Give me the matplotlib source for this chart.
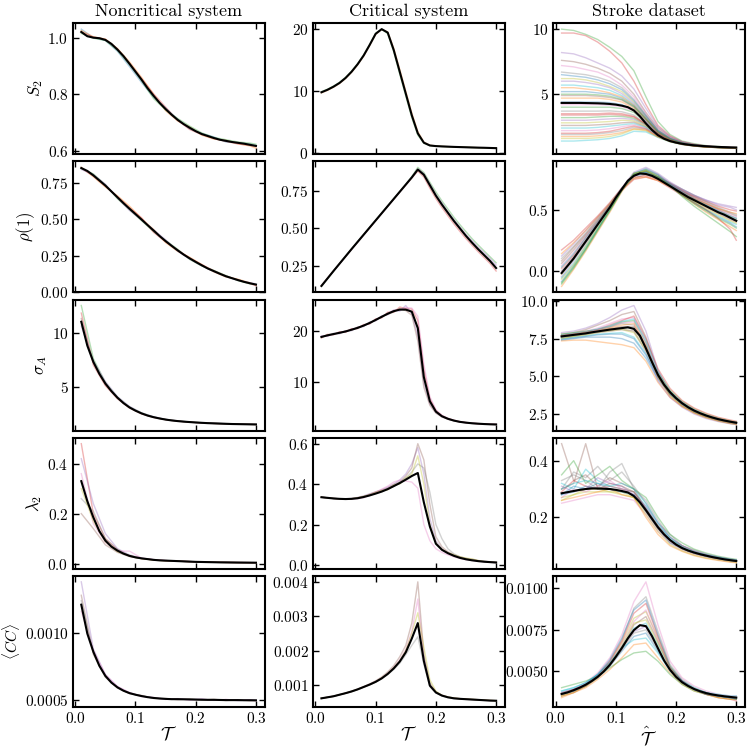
import numpy as np
import matplotlib
matplotlib.use("Agg")
import matplotlib.pyplot as plt

plt.rcParams["font.family"] = "serif"
plt.rcParams["font.serif"] = ["cmr10"]
plt.rcParams["mathtext.fontset"] = "cm"
plt.rcParams["axes.formatter.use_mathtext"] = True
plt.rcParams["font.size"] = 11

# fine grid (critical system + all mean curves) and coarse grid (other runs)
tau = [0.01, 0.02, 0.03, 0.04, 0.05, 0.06, 0.07, 0.08, 0.09, 0.10,
       0.11, 0.12, 0.13, 0.14, 0.15, 0.16, 0.17, 0.18, 0.19, 0.20,
       0.21, 0.22, 0.23, 0.24, 0.25, 0.26, 0.27, 0.28, 0.29, 0.30]
tau_c = [0.01, 0.03, 0.05, 0.07, 0.09, 0.11, 0.13, 0.15, 0.17, 0.19,
         0.21, 0.23, 0.25, 0.27, 0.29, 0.30]

col_titles = ["Noncritical system", "Critical system", "Stroke dataset"]
row_labels = [r"$S_2$", r"$\rho(1)$", r"$\sigma_A$", r"$\lambda_2$", r"$\langle CC\rangle$"]
x_labels = [r"$\mathcal{T}$", r"$\mathcal{T}$", r"$\hat{\mathcal{T}}$"]

# ---------------- noncritical system ----------------
nc_s2_mean = [1.02, 1.005, 1.0, 0.998, 0.992, 0.978, 0.958, 0.935, 0.908, 0.88,
              0.852, 0.822, 0.795, 0.77, 0.748, 0.728, 0.71, 0.695, 0.682, 0.67,
              0.66, 0.653, 0.646, 0.64, 0.636, 0.632, 0.629, 0.626, 0.622, 0.618]
nc_s2_runs = [
    [1.03, 1.0, 0.99, 0.952, 0.898, 0.842, 0.79, 0.752, 0.712, 0.678, 0.662, 0.65, 0.632, 0.63, 0.625, 0.62],
    [1.025, 1.003, 0.995, 0.962, 0.915, 0.86, 0.8, 0.742, 0.706, 0.685, 0.656, 0.642, 0.638, 0.626, 0.618, 0.61],
    [1.015, 0.998, 0.99, 0.955, 0.905, 0.848, 0.785, 0.745, 0.715, 0.688, 0.664, 0.648, 0.64, 0.632, 0.628, 0.624],
    [1.02, 1.002, 0.994, 0.96, 0.91, 0.856, 0.802, 0.755, 0.708, 0.676, 0.658, 0.644, 0.634, 0.625, 0.62, 0.615],
]
nc_rho_mean = [0.85, 0.83, 0.80, 0.765, 0.73, 0.69, 0.65, 0.61, 0.572, 0.535,
               0.498, 0.46, 0.423, 0.385, 0.35, 0.318, 0.287, 0.258, 0.232, 0.208,
               0.185, 0.163, 0.145, 0.127, 0.11, 0.097, 0.084, 0.072, 0.062, 0.053]
nc_rho_runs = [
    [0.855, 0.79, 0.72, 0.66, 0.59, 0.505, 0.43, 0.34, 0.28, 0.24, 0.19, 0.14, 0.105, 0.09, 0.065, 0.05],
    [0.845, 0.81, 0.735, 0.64, 0.565, 0.49, 0.415, 0.355, 0.295, 0.225, 0.18, 0.15, 0.115, 0.08, 0.058, 0.055],
    [0.85, 0.795, 0.725, 0.655, 0.58, 0.51, 0.41, 0.345, 0.29, 0.235, 0.19, 0.148, 0.112, 0.086, 0.06, 0.045],
    [0.84, 0.805, 0.74, 0.645, 0.56, 0.495, 0.428, 0.36, 0.282, 0.228, 0.182, 0.142, 0.108, 0.082, 0.066, 0.058],
]
nc_sig_mean = [11.0, 8.8, 7.3, 6.2, 5.3, 4.6, 4.0, 3.5, 3.1, 2.8,
               2.55, 2.35, 2.2, 2.08, 1.98, 1.9, 1.84, 1.79, 1.75, 1.71,
               1.68, 1.65, 1.63, 1.61, 1.59, 1.57, 1.56, 1.55, 1.54, 1.53]
nc_sig_runs = [
    [12.5, 7.6, 5.4, 4.05, 3.15, 2.6, 2.22, 1.99, 1.85, 1.76, 1.69, 1.63, 1.59, 1.56, 1.54, 1.53],
    [11.8, 7.0, 5.1, 3.9, 3.05, 2.5, 2.18, 1.97, 1.83, 1.74, 1.67, 1.62, 1.58, 1.56, 1.54, 1.52],
    [10.6, 7.4, 5.5, 4.1, 3.2, 2.6, 2.25, 2.0, 1.86, 1.75, 1.68, 1.64, 1.6, 1.57, 1.55, 1.54],
    [11.3, 7.2, 5.2, 3.95, 3.08, 2.53, 2.19, 1.98, 1.84, 1.75, 1.68, 1.63, 1.59, 1.56, 1.54, 1.53],
]
nc_lam_mean = [0.33, 0.25, 0.185, 0.13, 0.092, 0.068, 0.052, 0.04, 0.031, 0.025,
               0.021, 0.018, 0.015, 0.013, 0.012, 0.011, 0.01, 0.009, 0.008, 0.007,
               0.0065, 0.006, 0.0055, 0.005, 0.0048, 0.0045, 0.0042, 0.004, 0.0038, 0.0036]
nc_lam_runs = [
    [0.48, 0.2, 0.1, 0.055, 0.03, 0.02, 0.015, 0.012, 0.01, 0.008, 0.0065, 0.0055, 0.0048, 0.0042, 0.0038, 0.0036],
    [0.42, 0.24, 0.12, 0.06, 0.035, 0.022, 0.016, 0.012, 0.01, 0.008, 0.0066, 0.0056, 0.0049, 0.0043, 0.0039, 0.0037],
    [0.2, 0.14, 0.075, 0.045, 0.028, 0.02, 0.015, 0.011, 0.0095, 0.0078, 0.0064, 0.0054, 0.0047, 0.0041, 0.0037, 0.0035],
    [0.36, 0.16, 0.085, 0.05, 0.05, 0.022, 0.016, 0.012, 0.01, 0.0082, 0.0066, 0.0056, 0.0048, 0.0042, 0.0038, 0.0036],
    [0.26, 0.21, 0.1, 0.058, 0.03, 0.021, 0.015, 0.012, 0.01, 0.008, 0.0065, 0.0055, 0.0048, 0.0042, 0.0038, 0.0036],
    [0.3, 0.17, 0.088, 0.048, 0.032, 0.02, 0.014, 0.011, 0.0098, 0.0079, 0.0064, 0.0054, 0.0047, 0.0041, 0.0037, 0.0035],
]
nc_cc_mean = [0.00121, 0.000995, 0.00086, 0.000755, 0.00068, 0.00063, 0.000595, 0.00057, 0.000552, 0.00054,
              0.00053, 0.000522, 0.000516, 0.000512, 0.000509, 0.000507, 0.000507, 0.000506, 0.000505, 0.000504,
              0.000503, 0.000502, 0.000502, 0.000501, 0.0005, 0.0005, 0.0005, 0.000499, 0.000499, 0.000498]
nc_cc_runs = [
    [0.00138, 0.00088, 0.00069, 0.0006, 0.000555, 0.00053, 0.000518, 0.000505, 0.00051, 0.000502, 0.000508, 0.000498, 0.000504, 0.000496, 0.000503, 0.0005],
    [0.00128, 0.00084, 0.00067, 0.00059, 0.000548, 0.000535, 0.000512, 0.000512, 0.000503, 0.000509, 0.0005, 0.000506, 0.000497, 0.000503, 0.000495, 0.000497],
    [0.00116, 0.00087, 0.00069, 0.000602, 0.000556, 0.000526, 0.00052, 0.000506, 0.000511, 0.000501, 0.000506, 0.0005, 0.000505, 0.000498, 0.000501, 0.000494],
    [0.00124, 0.00085, 0.000675, 0.000592, 0.00055, 0.000532, 0.000514, 0.00051, 0.000505, 0.000507, 0.000499, 0.000503, 0.000499, 0.000502, 0.000497, 0.000501],
]

# ---------------- critical system ----------------
cr_s2_mean = [9.8, 10.2, 10.7, 11.3, 12.1, 13.1, 14.3, 15.7, 17.4, 19.2,
              19.95, 19.4, 16.6, 13.1, 9.6, 6.1, 3.2, 1.7, 1.25, 1.15,
              1.1, 1.06, 1.02, 0.99, 0.96, 0.93, 0.9, 0.88, 0.85, 0.82]
cr_s2_runs = [
    [9.7, 10.1, 10.6, 11.2, 12.0, 13.0, 14.2, 15.6, 17.3, 19.1, 19.9, 19.5, 16.9, 13.5, 10.0,
     6.5, 3.5, 1.8, 1.3, 1.16, 1.1, 1.06, 1.02, 0.99, 0.96, 0.93, 0.9, 0.88, 0.85, 0.82],
    [9.9, 10.3, 10.8, 11.4, 12.2, 13.2, 14.4, 15.8, 17.5, 19.3, 19.95, 19.2, 16.3, 12.7, 9.2,
     5.7, 2.9, 1.6, 1.22, 1.14, 1.09, 1.05, 1.01, 0.98, 0.95, 0.92, 0.9, 0.87, 0.84, 0.81],
]
cr_rho_mean = [0.115, 0.165, 0.215, 0.264, 0.313, 0.362, 0.41, 0.458, 0.506, 0.554,
               0.602, 0.65, 0.698, 0.746, 0.794, 0.842, 0.895, 0.86, 0.79, 0.72,
               0.66, 0.605, 0.55, 0.5, 0.45, 0.405, 0.362, 0.322, 0.282, 0.235]
cr_rho_runs = [
    [0.112, 0.163, 0.214, 0.265, 0.315, 0.364, 0.412, 0.46, 0.508, 0.556, 0.604, 0.652, 0.7, 0.748, 0.797,
     0.848, 0.91, 0.875, 0.81, 0.745, 0.685, 0.63, 0.575, 0.525, 0.478, 0.432, 0.39, 0.35, 0.31, 0.27],
    [0.118, 0.167, 0.216, 0.263, 0.311, 0.36, 0.408, 0.456, 0.504, 0.552, 0.6, 0.648, 0.696, 0.744, 0.791,
     0.838, 0.885, 0.845, 0.77, 0.7, 0.64, 0.585, 0.53, 0.48, 0.432, 0.388, 0.345, 0.305, 0.265, 0.215],
    [0.115, 0.165, 0.215, 0.264, 0.313, 0.362, 0.41, 0.458, 0.506, 0.554, 0.602, 0.65, 0.698, 0.746, 0.795,
     0.845, 0.9, 0.868, 0.8, 0.73, 0.672, 0.612, 0.56, 0.51, 0.46, 0.418, 0.375, 0.338, 0.298, 0.255],
]
cr_sig_mean = [18.8, 19.1, 19.35, 19.6, 19.85, 20.2, 20.55, 21.0, 21.5, 22.1,
               22.7, 23.3, 23.8, 24.1, 24.1, 23.7, 20.5, 11.0, 6.3, 4.3,
               3.4, 2.9, 2.55, 2.3, 2.15, 2.03, 1.95, 1.88, 1.83, 1.8]
cr_sig_runs = [
    [18.6, 19.3, 19.2, 19.8, 19.7, 20.4, 20.4, 21.2, 21.3, 22.3, 22.5, 23.6, 23.6, 24.6, 24.3,
     24.2, 22.0, 12.5, 6.8, 4.5, 3.5, 2.95, 2.6, 2.32, 2.17, 2.04, 1.96, 1.89, 1.84, 1.8],
    [19.0, 18.9, 19.5, 19.4, 20.0, 20.0, 20.7, 20.8, 21.7, 21.9, 22.9, 23.1, 24.0, 23.8, 24.9,
     23.3, 19.0, 9.8, 5.8, 4.1, 3.3, 2.85, 2.5, 2.28, 2.13, 2.02, 1.94, 1.87, 1.82, 1.79],
    [18.7, 19.2, 19.4, 19.5, 20.0, 20.1, 20.7, 20.9, 21.6, 22.0, 22.8, 23.2, 23.6, 24.3, 23.9,
     23.0, 18.0, 9.0, 5.5, 4.0, 3.25, 2.8, 2.5, 2.27, 2.12, 2.01, 1.93, 1.87, 1.82, 1.78],
    [18.9, 19.0, 19.3, 19.7, 19.8, 20.3, 20.5, 21.1, 21.4, 22.2, 22.6, 23.4, 24.0, 24.0, 24.5,
     24.4, 22.8, 13.5, 7.2, 4.7, 3.6, 3.0, 2.62, 2.35, 2.18, 2.05, 1.97, 1.9, 1.85, 1.81],
]
cr_lam_mean = [0.335, 0.332, 0.329, 0.327, 0.326, 0.327, 0.33, 0.336, 0.344, 0.353,
               0.363, 0.375, 0.39, 0.405, 0.422, 0.44, 0.455, 0.31, 0.19, 0.105,
               0.075, 0.058, 0.045, 0.035, 0.028, 0.023, 0.019, 0.016, 0.014, 0.012]
cr_lam_runs = [
    [0.335, 0.332, 0.329, 0.327, 0.327, 0.329, 0.334, 0.342, 0.352, 0.36, 0.372, 0.385, 0.4, 0.42, 0.45,
     0.5, 0.58, 0.45, 0.23, 0.12, 0.08, 0.06, 0.046, 0.036, 0.029, 0.024, 0.02, 0.017, 0.015, 0.013],
    [0.335, 0.332, 0.329, 0.327, 0.326, 0.328, 0.333, 0.338, 0.35, 0.362, 0.37, 0.38, 0.398, 0.41, 0.44,
     0.48, 0.6, 0.52, 0.3, 0.14, 0.09, 0.065, 0.05, 0.04, 0.032, 0.028, 0.022, 0.018, 0.016, 0.014],
    [0.335, 0.332, 0.329, 0.327, 0.326, 0.326, 0.328, 0.332, 0.345, 0.36, 0.375, 0.39, 0.41, 0.42, 0.415,
     0.41, 0.38, 0.2, 0.12, 0.08, 0.062, 0.05, 0.04, 0.032, 0.026, 0.022, 0.018, 0.015, 0.013, 0.011],
    [0.335, 0.332, 0.329, 0.327, 0.326, 0.327, 0.331, 0.338, 0.343, 0.355, 0.362, 0.378, 0.388, 0.41, 0.43,
     0.46, 0.5, 0.48, 0.36, 0.2, 0.13, 0.08, 0.055, 0.04, 0.032, 0.026, 0.021, 0.018, 0.015, 0.013],
    [0.335, 0.332, 0.329, 0.327, 0.326, 0.328, 0.332, 0.34, 0.346, 0.358, 0.368, 0.372, 0.395, 0.4, 0.43,
     0.45, 0.54, 0.4, 0.2, 0.11, 0.078, 0.06, 0.05, 0.04, 0.034, 0.03, 0.022, 0.017, 0.014, 0.012],
]
cr_cc_mean = [0.00061, 0.00064, 0.00067, 0.000715, 0.00076, 0.00081, 0.00087, 0.00094, 0.00101, 0.00109,
              0.00119, 0.00132, 0.00148, 0.00168, 0.00195, 0.00235, 0.0028, 0.0017, 0.00098, 0.00078,
              0.00069, 0.00064, 0.00061, 0.000595, 0.000585, 0.000575, 0.000565, 0.000555, 0.000545, 0.00054]
cr_cc_runs = [
    [0.00061, 0.00064, 0.00067, 0.00072, 0.00076, 0.00082, 0.00088, 0.00095, 0.00103, 0.00112,
     0.00123, 0.00138, 0.00156, 0.00182, 0.00215, 0.0028, 0.004, 0.0019, 0.00105, 0.0008,
     0.0007, 0.00065, 0.00062, 0.0006, 0.00059, 0.00058, 0.00057, 0.00056, 0.00055, 0.00054],
    [0.00061, 0.00064, 0.00067, 0.000715, 0.00076, 0.00081, 0.00087, 0.00094, 0.00102, 0.0011,
     0.0012, 0.00134, 0.00151, 0.00173, 0.00203, 0.00255, 0.0035, 0.0018, 0.001, 0.00079,
     0.0007, 0.00064, 0.00061, 0.0006, 0.000585, 0.000575, 0.000565, 0.000555, 0.000545, 0.00054],
    [0.00061, 0.00064, 0.00067, 0.00071, 0.000755, 0.0008, 0.00086, 0.00093, 0.001, 0.00108,
     0.00118, 0.0013, 0.00145, 0.00163, 0.00188, 0.00215, 0.0024, 0.0016, 0.00095, 0.00077,
     0.00068, 0.00063, 0.0006, 0.00059, 0.00058, 0.00057, 0.00056, 0.00055, 0.00054, 0.000535],
    [0.00061, 0.00064, 0.00067, 0.000715, 0.00076, 0.00081, 0.00087, 0.00094, 0.00101, 0.00109,
     0.0012, 0.00133, 0.0015, 0.0017, 0.002, 0.0025, 0.0031, 0.0021, 0.00115, 0.00082,
     0.0007, 0.00065, 0.00062, 0.0006, 0.00059, 0.00058, 0.00057, 0.00056, 0.00055, 0.00054],
]

# ---------------- stroke dataset ----------------
st_s2_mean = [4.33, 4.33, 4.33, 4.33, 4.32, 4.31, 4.3, 4.28, 4.25, 4.2,
              4.12, 4.0, 3.75, 3.3, 2.75, 2.25, 1.85, 1.58, 1.4, 1.28,
              1.19, 1.12, 1.07, 1.03, 1.0, 0.97, 0.95, 0.93, 0.91, 0.9]
st_s2_runs = [
    [10.0, 9.9, 9.6, 9.2, 8.6, 7.9, 6.8, 4.8, 2.9, 1.9, 1.4, 1.2, 1.05, 0.98, 0.93, 0.92],
    [9.7, 9.7, 9.5, 9.0, 8.3, 7.4, 6.0, 4.2, 2.6, 1.8, 1.35, 1.15, 1.02, 0.96, 0.92, 0.9],
    [8.2, 8.1, 7.8, 7.4, 7.0, 6.4, 5.4, 3.9, 2.5, 1.75, 1.35, 1.15, 1.03, 0.96, 0.92, 0.9],
    [7.6, 7.5, 7.3, 7.0, 6.6, 6.0, 5.0, 3.6, 2.4, 1.7, 1.3, 1.12, 1.0, 0.95, 0.91, 0.9],
    [7.2, 7.1, 6.9, 6.7, 6.3, 5.7, 4.8, 3.5, 2.3, 1.65, 1.3, 1.1, 1.0, 0.94, 0.9, 0.89],
    [6.7, 6.6, 6.5, 6.3, 6.0, 5.5, 4.6, 3.4, 2.25, 1.62, 1.28, 1.1, 0.99, 0.94, 0.9, 0.89],
    [6.2, 6.2, 6.1, 5.9, 5.6, 5.2, 4.4, 3.3, 2.2, 1.6, 1.26, 1.08, 0.98, 0.93, 0.89, 0.88],
    [5.7, 5.7, 5.6, 5.5, 5.3, 4.9, 4.2, 3.2, 2.15, 1.58, 1.25, 1.08, 0.98, 0.93, 0.89, 0.88],
    [5.2, 5.2, 5.2, 5.1, 5.0, 4.7, 4.1, 3.1, 2.1, 1.55, 1.24, 1.07, 0.97, 0.92, 0.89, 0.88],
    [4.7, 4.7, 4.7, 4.7, 4.6, 4.4, 3.9, 3.0, 2.05, 1.52, 1.22, 1.06, 0.97, 0.92, 0.89, 0.88],
    [4.0, 4.0, 4.0, 4.0, 4.0, 3.9, 3.6, 2.85, 2.0, 1.5, 1.2, 1.05, 0.96, 0.91, 0.88, 0.87],
    [3.5, 3.5, 3.5, 3.5, 3.55, 3.5, 3.3, 2.7, 1.95, 1.48, 1.2, 1.05, 0.96, 0.91, 0.88, 0.87],
    [3.0, 3.0, 3.0, 3.05, 3.1, 3.15, 3.05, 2.6, 1.9, 1.45, 1.18, 1.04, 0.95, 0.91, 0.88, 0.87],
    [2.6, 2.6, 2.6, 2.65, 2.7, 2.8, 2.85, 2.5, 1.85, 1.42, 1.17, 1.03, 0.95, 0.9, 0.87, 0.86],
    [2.2, 2.2, 2.2, 2.25, 2.35, 2.5, 2.65, 2.4, 1.8, 1.4, 1.16, 1.03, 0.95, 0.9, 0.87, 0.86],
    [1.9, 1.9, 1.9, 1.95, 2.05, 2.2, 2.45, 2.3, 1.75, 1.38, 1.15, 1.02, 0.94, 0.9, 0.87, 0.86],
    [1.6, 1.6, 1.6, 1.65, 1.75, 1.95, 2.3, 2.2, 1.7, 1.35, 1.14, 1.02, 0.94, 0.9, 0.87, 0.86],
    [1.4, 1.4, 1.45, 1.5, 1.6, 1.8, 2.15, 2.1, 1.68, 1.34, 1.13, 1.01, 0.94, 0.89, 0.86, 0.85],
    [4.4, 4.4, 4.4, 4.4, 4.35, 4.2, 3.8, 2.95, 2.0, 1.5, 1.21, 1.06, 0.97, 0.92, 0.89, 0.88],
    [5.5, 5.5, 5.4, 5.3, 5.1, 4.8, 4.15, 3.15, 2.1, 1.56, 1.25, 1.08, 0.98, 0.93, 0.89, 0.88],
    [3.2, 3.2, 3.2, 3.25, 3.3, 3.3, 3.15, 2.65, 1.92, 1.46, 1.19, 1.05, 0.96, 0.91, 0.88, 0.87],
    [2.0, 2.0, 2.0, 2.05, 2.15, 2.35, 2.55, 2.35, 1.78, 1.39, 1.15, 1.02, 0.94, 0.9, 0.87, 0.86],
    [6.0, 6.0, 5.9, 5.75, 5.5, 5.05, 4.3, 3.25, 2.18, 1.59, 1.26, 1.08, 0.98, 0.93, 0.89, 0.88],
    [4.9, 4.9, 4.9, 4.85, 4.75, 4.55, 4.0, 3.05, 2.08, 1.54, 1.23, 1.07, 0.97, 0.92, 0.89, 0.88],
    [4.2, 4.2, 4.2, 4.2, 4.15, 4.05, 3.7, 2.9, 2.02, 1.51, 1.21, 1.06, 0.97, 0.92, 0.88, 0.87],
    [3.7, 3.7, 3.7, 3.7, 3.72, 3.65, 3.4, 2.75, 1.97, 1.49, 1.2, 1.05, 0.96, 0.91, 0.88, 0.87],
    [2.8, 2.8, 2.8, 2.85, 2.9, 3.0, 2.95, 2.55, 1.88, 1.44, 1.18, 1.04, 0.95, 0.9, 0.87, 0.86],
    [2.4, 2.4, 2.4, 2.45, 2.55, 2.65, 2.75, 2.45, 1.83, 1.41, 1.16, 1.03, 0.95, 0.9, 0.87, 0.86],
    [6.5, 6.4, 6.3, 6.1, 5.8, 5.35, 4.5, 3.35, 2.22, 1.61, 1.27, 1.09, 0.99, 0.93, 0.9, 0.89],
    [1.75, 1.75, 1.75, 1.8, 1.9, 2.05, 2.35, 2.25, 1.72, 1.36, 1.14, 1.02, 0.94, 0.9, 0.87, 0.86],
    [5.0, 5.0, 5.0, 4.95, 4.85, 4.6, 4.05, 3.1, 2.1, 1.55, 1.24, 1.07, 0.97, 0.92, 0.89, 0.88],
    [3.4, 3.4, 3.4, 3.4, 3.45, 3.4, 3.25, 2.7, 1.94, 1.47, 1.19, 1.05, 0.96, 0.91, 0.88, 0.87],
]
st_rho_mean = [-0.02, 0.04, 0.1, 0.17, 0.24, 0.31, 0.38, 0.45, 0.52, 0.6,
               0.67, 0.74, 0.78, 0.8, 0.795, 0.78, 0.755, 0.725, 0.695, 0.665,
               0.635, 0.605, 0.58, 0.555, 0.53, 0.505, 0.48, 0.46, 0.435, 0.41]
st_rho_runs = [
    [0.17, 0.25, 0.35, 0.45, 0.56, 0.68, 0.77, 0.78, 0.75, 0.7, 0.65, 0.61, 0.57, 0.53, 0.5, 0.49],
    [0.12, 0.22, 0.33, 0.44, 0.55, 0.68, 0.78, 0.8, 0.77, 0.72, 0.67, 0.62, 0.58, 0.54, 0.52, 0.5],
    [0.08, 0.19, 0.3, 0.42, 0.54, 0.67, 0.78, 0.81, 0.77, 0.71, 0.66, 0.61, 0.56, 0.51, 0.47, 0.45],
    [0.04, 0.15, 0.28, 0.4, 0.53, 0.67, 0.79, 0.82, 0.78, 0.72, 0.66, 0.6, 0.55, 0.5, 0.46, 0.44],
    [0.0, 0.12, 0.25, 0.39, 0.53, 0.68, 0.8, 0.83, 0.79, 0.72, 0.65, 0.59, 0.54, 0.49, 0.44, 0.42],
    [-0.03, 0.09, 0.23, 0.37, 0.52, 0.67, 0.79, 0.8, 0.75, 0.69, 0.63, 0.57, 0.52, 0.47, 0.42, 0.4],
    [-0.06, 0.06, 0.2, 0.35, 0.5, 0.66, 0.79, 0.81, 0.76, 0.69, 0.62, 0.56, 0.5, 0.45, 0.4, 0.38],
    [-0.09, 0.04, 0.18, 0.34, 0.5, 0.66, 0.8, 0.84, 0.79, 0.71, 0.63, 0.56, 0.5, 0.44, 0.39, 0.36],
    [-0.13, 0.01, 0.16, 0.32, 0.48, 0.65, 0.79, 0.82, 0.77, 0.7, 0.62, 0.55, 0.48, 0.42, 0.36, 0.33],
    [-0.11, 0.02, 0.17, 0.33, 0.49, 0.66, 0.8, 0.83, 0.78, 0.7, 0.61, 0.53, 0.46, 0.39, 0.32, 0.28],
    [0.02, 0.13, 0.27, 0.4, 0.53, 0.66, 0.75, 0.77, 0.74, 0.68, 0.62, 0.56, 0.5, 0.43, 0.34, 0.25],
    [-0.05, 0.08, 0.22, 0.37, 0.52, 0.68, 0.81, 0.85, 0.8, 0.73, 0.67, 0.62, 0.58, 0.55, 0.53, 0.52],
    [0.06, 0.17, 0.29, 0.41, 0.54, 0.67, 0.76, 0.79, 0.76, 0.71, 0.66, 0.6, 0.55, 0.5, 0.45, 0.43],
    [-0.01, 0.11, 0.25, 0.38, 0.52, 0.67, 0.78, 0.8, 0.76, 0.7, 0.64, 0.58, 0.52, 0.47, 0.42, 0.4],
    [0.1, 0.2, 0.31, 0.43, 0.55, 0.68, 0.79, 0.81, 0.77, 0.72, 0.67, 0.62, 0.57, 0.52, 0.48, 0.46],
    [-0.07, 0.05, 0.2, 0.36, 0.51, 0.67, 0.8, 0.82, 0.77, 0.7, 0.63, 0.57, 0.51, 0.46, 0.41, 0.39],
    [0.03, 0.14, 0.27, 0.4, 0.53, 0.67, 0.78, 0.8, 0.76, 0.7, 0.64, 0.59, 0.54, 0.49, 0.45, 0.43],
    [-0.02, 0.1, 0.24, 0.38, 0.52, 0.67, 0.79, 0.81, 0.77, 0.71, 0.65, 0.59, 0.53, 0.48, 0.43, 0.41],
    [0.14, 0.23, 0.33, 0.44, 0.55, 0.67, 0.76, 0.77, 0.74, 0.69, 0.64, 0.59, 0.55, 0.51, 0.48, 0.47],
    [-0.1, 0.03, 0.18, 0.34, 0.5, 0.66, 0.79, 0.82, 0.77, 0.7, 0.62, 0.55, 0.49, 0.43, 0.38, 0.35],
]
st_sig_mean = [7.65, 7.7, 7.75, 7.8, 7.85, 7.92, 7.98, 8.04, 8.1, 8.15,
               8.2, 8.25, 8.15, 7.7, 6.85, 5.95, 5.1, 4.45, 3.95, 3.55,
               3.22, 2.95, 2.73, 2.55, 2.4, 2.27, 2.16, 2.07, 1.99, 1.92]
st_sig_runs = [
    [7.9, 8.0, 8.2, 8.5, 8.9, 9.4, 9.7, 8.0, 5.4, 3.9, 3.1, 2.6, 2.3, 2.1, 1.95, 1.9],
    [7.8, 7.9, 8.1, 8.4, 8.7, 9.1, 9.3, 7.6, 5.3, 4.0, 3.25, 2.75, 2.42, 2.18, 2.0, 1.93],
    [7.7, 7.85, 8.0, 8.2, 8.5, 8.8, 8.9, 7.3, 5.2, 4.0, 3.3, 2.8, 2.45, 2.2, 2.02, 1.95],
    [7.6, 7.75, 7.9, 8.05, 8.25, 8.5, 8.4, 7.0, 5.1, 3.95, 3.25, 2.75, 2.4, 2.15, 1.98, 1.9],
    [7.55, 7.65, 7.8, 7.95, 8.05, 8.15, 8.0, 6.8, 5.2, 4.1, 3.35, 2.85, 2.5, 2.25, 2.06, 1.98],
    [7.5, 7.6, 7.7, 7.8, 7.85, 7.9, 7.6, 6.5, 5.0, 3.9, 3.2, 2.7, 2.38, 2.15, 1.98, 1.92],
    [7.4, 7.5, 7.6, 7.6, 7.6, 7.5, 7.2, 6.2, 4.8, 3.8, 3.15, 2.68, 2.35, 2.12, 1.96, 1.9],
    [7.35, 7.4, 7.4, 7.3, 7.2, 7.1, 6.9, 6.0, 4.6, 3.6, 3.0, 2.6, 2.3, 2.08, 1.92, 1.86],
    [7.8, 7.9, 8.0, 8.1, 8.3, 8.6, 8.7, 7.2, 5.0, 3.75, 3.05, 2.6, 2.28, 2.05, 1.88, 1.82],
    [7.7, 7.8, 7.95, 8.1, 8.4, 8.7, 9.0, 7.5, 5.5, 4.2, 3.4, 2.9, 2.55, 2.28, 2.1, 2.02],
    [7.6, 7.7, 7.8, 7.9, 8.0, 8.1, 8.0, 6.6, 4.7, 3.6, 2.95, 2.5, 2.2, 2.0, 1.85, 1.8],
    [7.65, 7.75, 7.85, 8.0, 8.15, 8.3, 8.3, 6.9, 5.0, 3.85, 3.15, 2.68, 2.36, 2.13, 1.97, 1.9],
    [7.7, 7.8, 7.9, 8.1, 8.3, 8.55, 8.6, 7.1, 5.1, 3.9, 3.2, 2.72, 2.38, 2.14, 1.97, 1.9],
    [7.6, 7.7, 7.8, 7.95, 8.1, 8.25, 8.2, 6.9, 5.0, 3.85, 3.15, 2.68, 2.36, 2.12, 1.96, 1.89],
    [7.5, 7.65, 7.75, 7.9, 8.0, 8.1, 7.9, 6.7, 5.05, 3.9, 3.2, 2.72, 2.4, 2.16, 1.99, 1.93],
    [7.75, 7.85, 7.95, 8.15, 8.35, 8.65, 8.8, 7.4, 5.3, 4.05, 3.3, 2.8, 2.45, 2.2, 2.02, 1.95],
    [7.45, 7.55, 7.65, 7.75, 7.8, 7.8, 7.5, 6.4, 4.9, 3.85, 3.18, 2.7, 2.37, 2.14, 1.97, 1.91],
    [7.7, 7.8, 7.9, 8.0, 8.2, 8.4, 8.5, 7.0, 4.9, 3.7, 3.02, 2.56, 2.25, 2.03, 1.87, 1.8],
]
st_lam_mean = [0.285, 0.289, 0.293, 0.297, 0.3, 0.302, 0.302, 0.301, 0.3, 0.297,
               0.293, 0.288, 0.275, 0.253, 0.225, 0.195, 0.165, 0.14, 0.12, 0.104,
               0.092, 0.083, 0.076, 0.07, 0.065, 0.06, 0.056, 0.052, 0.049, 0.046]
st_lam_runs = [
    [0.46, 0.33, 0.35, 0.31, 0.34, 0.32, 0.3, 0.23, 0.17, 0.12, 0.1, 0.08, 0.066, 0.058, 0.05, 0.048],
    [0.25, 0.26, 0.27, 0.28, 0.28, 0.27, 0.26, 0.21, 0.15, 0.11, 0.085, 0.07, 0.06, 0.05, 0.044, 0.042],
    [0.3, 0.36, 0.34, 0.38, 0.33, 0.36, 0.31, 0.25, 0.18, 0.14, 0.1, 0.085, 0.07, 0.06, 0.052, 0.05],
    [0.27, 0.28, 0.29, 0.29, 0.29, 0.28, 0.27, 0.22, 0.16, 0.115, 0.088, 0.072, 0.062, 0.054, 0.047, 0.044],
    [0.32, 0.3, 0.37, 0.33, 0.31, 0.3, 0.29, 0.24, 0.17, 0.13, 0.095, 0.078, 0.067, 0.06, 0.052, 0.05],
    [0.28, 0.31, 0.3, 0.32, 0.3, 0.29, 0.28, 0.22, 0.16, 0.11, 0.09, 0.074, 0.063, 0.055, 0.048, 0.045],
    [0.26, 0.27, 0.28, 0.29, 0.3, 0.28, 0.27, 0.2, 0.14, 0.1, 0.08, 0.065, 0.055, 0.048, 0.042, 0.04],
    [0.35, 0.4, 0.32, 0.35, 0.38, 0.33, 0.3, 0.27, 0.2, 0.14, 0.11, 0.088, 0.074, 0.063, 0.055, 0.052],
    [0.29, 0.33, 0.31, 0.3, 0.31, 0.3, 0.29, 0.23, 0.17, 0.12, 0.092, 0.076, 0.065, 0.056, 0.05, 0.047],
    [0.31, 0.29, 0.3, 0.34, 0.32, 0.31, 0.28, 0.24, 0.18, 0.13, 0.1, 0.082, 0.07, 0.06, 0.053, 0.05],
    [0.3, 0.32, 0.46, 0.3, 0.32, 0.31, 0.29, 0.23, 0.16, 0.12, 0.09, 0.075, 0.064, 0.055, 0.049, 0.046],
    [0.27, 0.3, 0.29, 0.31, 0.33, 0.3, 0.28, 0.22, 0.16, 0.115, 0.09, 0.073, 0.062, 0.054, 0.048, 0.045],
    [0.33, 0.35, 0.33, 0.3, 0.36, 0.39, 0.3, 0.26, 0.19, 0.13, 0.1, 0.08, 0.068, 0.058, 0.051, 0.049],
    [0.26, 0.28, 0.3, 0.3, 0.29, 0.29, 0.27, 0.21, 0.15, 0.105, 0.082, 0.067, 0.057, 0.05, 0.044, 0.041],
    [0.3, 0.32, 0.33, 0.32, 0.31, 0.32, 0.3, 0.25, 0.18, 0.125, 0.095, 0.078, 0.067, 0.058, 0.051, 0.048],
    [0.28, 0.29, 0.31, 0.3, 0.3, 0.29, 0.28, 0.23, 0.165, 0.12, 0.09, 0.074, 0.063, 0.055, 0.048, 0.045],
]
st_cc_mean = [0.00362, 0.00372, 0.00385, 0.004, 0.00418, 0.0044, 0.00466, 0.00498, 0.00538, 0.00587,
              0.0064, 0.00698, 0.00748, 0.00778, 0.00772, 0.00712, 0.00638, 0.00565, 0.00508, 0.00465,
              0.00433, 0.0041, 0.00392, 0.00378, 0.00367, 0.00359, 0.00353, 0.00348, 0.00344, 0.0034]
st_cc_runs = [
    [0.0037, 0.0039, 0.0043, 0.0049, 0.0058, 0.0072, 0.0092, 0.0104, 0.0078, 0.0056, 0.0046, 0.0041, 0.0038, 0.0036, 0.0035, 0.0035],
    [0.0036, 0.0038, 0.0042, 0.0048, 0.0056, 0.0069, 0.0088, 0.0095, 0.0074, 0.0054, 0.0045, 0.004, 0.0037, 0.0035, 0.0034, 0.0034],
    [0.0035, 0.0038, 0.0041, 0.0047, 0.0055, 0.0067, 0.0082, 0.0086, 0.007, 0.0053, 0.0044, 0.0039, 0.0036, 0.0035, 0.0034, 0.0034],
    [0.0038, 0.004, 0.0043, 0.0048, 0.0055, 0.0065, 0.0076, 0.0079, 0.0066, 0.0052, 0.0044, 0.004, 0.0037, 0.0036, 0.0035, 0.0035],
    [0.0036, 0.0038, 0.0041, 0.0046, 0.0053, 0.0062, 0.0071, 0.0073, 0.0062, 0.0051, 0.0044, 0.0039, 0.0036, 0.0035, 0.0034, 0.0033],
    [0.0034, 0.0037, 0.004, 0.0045, 0.0051, 0.0058, 0.0066, 0.0067, 0.0058, 0.0049, 0.0042, 0.0038, 0.0036, 0.0034, 0.0033, 0.0033],
    [0.004, 0.0042, 0.0044, 0.0047, 0.0052, 0.0057, 0.0061, 0.0062, 0.0056, 0.0048, 0.0042, 0.0038, 0.0036, 0.0035, 0.0034, 0.0034],
    [0.0035, 0.0037, 0.0041, 0.0047, 0.0056, 0.0068, 0.0085, 0.0091, 0.0071, 0.0052, 0.0043, 0.0039, 0.0036, 0.0034, 0.0033, 0.0032],
    [0.0037, 0.0039, 0.0042, 0.0047, 0.0054, 0.0064, 0.0074, 0.0077, 0.0064, 0.0051, 0.0044, 0.0039, 0.0037, 0.0035, 0.0034, 0.0034],
    [0.0036, 0.0038, 0.0041, 0.0046, 0.0053, 0.0063, 0.0078, 0.0083, 0.0068, 0.0052, 0.0044, 0.0039, 0.0036, 0.0035, 0.0034, 0.0033],
    [0.0036, 0.0039, 0.0042, 0.0047, 0.0055, 0.0066, 0.008, 0.0087, 0.0069, 0.0052, 0.0044, 0.0039, 0.0036, 0.0035, 0.0034, 0.0034],
    [0.0037, 0.0039, 0.0042, 0.0047, 0.0054, 0.0063, 0.0073, 0.0075, 0.0063, 0.0051, 0.0044, 0.0039, 0.0037, 0.0035, 0.0034, 0.0034],
    [0.0035, 0.0037, 0.0041, 0.0046, 0.0054, 0.0065, 0.0079, 0.0081, 0.0067, 0.0052, 0.0043, 0.0039, 0.0036, 0.0034, 0.0033, 0.0033],
    [0.0038, 0.004, 0.0043, 0.0048, 0.0055, 0.0064, 0.0069, 0.007, 0.0061, 0.005, 0.0043, 0.0039, 0.0037, 0.0035, 0.0034, 0.0034],
    [0.0036, 0.0038, 0.0042, 0.0048, 0.0057, 0.007, 0.0087, 0.0093, 0.0072, 0.0053, 0.0044, 0.0039, 0.0036, 0.0035, 0.0034, 0.0033],
]

# (runs x-grid, runs, mean, yticks) per row, per column
panels = [
    [(tau_c, nc_s2_runs, nc_s2_mean, [0.6, 0.8, 1.0]),
     (tau, cr_s2_runs, cr_s2_mean, [0, 10, 20]),
     (tau_c, st_s2_runs, st_s2_mean, [5, 10])],
    [(tau_c, nc_rho_runs, nc_rho_mean, [0.0, 0.25, 0.5, 0.75]),
     (tau, cr_rho_runs, cr_rho_mean, [0.25, 0.5, 0.75]),
     (tau_c, st_rho_runs, st_rho_mean, [0.0, 0.5])],
    [(tau_c, nc_sig_runs, nc_sig_mean, [5, 10]),
     (tau, cr_sig_runs, cr_sig_mean, [10, 20]),
     (tau_c, st_sig_runs, st_sig_mean, [2.5, 5.0, 7.5, 10.0])],
    [(tau_c, nc_lam_runs, nc_lam_mean, [0.0, 0.2, 0.4]),
     (tau, cr_lam_runs, cr_lam_mean, [0.0, 0.2, 0.4, 0.6]),
     (tau_c, st_lam_runs, st_lam_mean, [0.2, 0.4])],
    [(tau_c, nc_cc_runs, nc_cc_mean, [0.0005, 0.0010]),
     (tau, cr_cc_runs, cr_cc_mean, [0.001, 0.002, 0.003, 0.004]),
     (tau_c, st_cc_runs, st_cc_mean, [0.0050, 0.0075, 0.0100])],
]

colors = plt.rcParams["axes.prop_cycle"].by_key()["color"]

fig, axes = plt.subplots(5, 3, figsize=(7.48, 7.48), dpi=100, sharex=True)
fig.subplots_adjust(left=0.097, right=0.996, top=0.969, bottom=0.055,
                    wspace=0.25, hspace=0.055)

for r in range(5):
    for c in range(3):
        ax = axes[r, c]
        xr, runs, mean, yt = panels[r][c]
        for k, run in enumerate(runs):
            ax.plot(xr, run, color=colors[(k + r + c) % len(colors)], alpha=0.35, lw=1.0)
        ax.plot(tau, mean, color="black", lw=1.5)
        ax.set_yticks(yt)
        ax.set_xticks([0.0, 0.1, 0.2, 0.3])
        ax.tick_params(direction="in", top=True, right=True, length=4, width=1,
                       labelsize=11, pad=3)
        for s in ax.spines.values():
            s.set_linewidth(1.5)
        if c == 0:
            ax.set_ylabel(row_labels[r], fontsize=12 if r < 4 else 11, labelpad=2)
        if r == 0:
            ax.set_title(col_titles[c], fontsize=13, pad=5)
        if r == 4:
            ax.set_xlabel(x_labels[c], fontsize=13, labelpad=-1)

# the <CC> label sits right at the figure edge, pin it just inside
axes[4, 0].yaxis.set_label_coords(-0.262, 0.5)

fig.savefig("out.png", dpi=100)
